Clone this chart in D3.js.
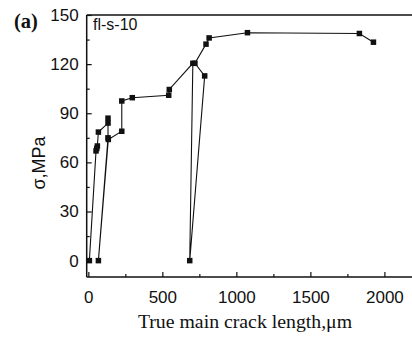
<!DOCTYPE html>
<html>
<head>
<meta charset="utf-8">
<script src="https://cdn.jsdelivr.net/npm/d3@7"></script>
<style>
  html, body { margin: 0; padding: 0; background: #fff; }
  svg { display: block; }
</style>
</head>
<body>
<svg id="chart" width="412" height="339"></svg>
<script>
// ---- data ----
const crackLength = [7, 52, 57, 61, 68, 133, 133, 133, 68, 135, 226, 226, 297, 543, 547, 706, 685, 786, 720, 795, 816, 1075, 1831, 1926];
const stress      = [0, 67, 68.5, 70, 78.5, 84, 87, 75, 0, 74, 79, 97.5, 99.5, 101, 104.5, 120.5, 0, 112.8, 120.5, 132.2, 136, 139.2, 138.7, 133.4];
const xTicks = [0, 500, 1000, 1500, 2000];
const xMinor = [250, 750, 1250, 1750];
const yTicks = [0, 30, 60, 90, 120, 150];
const yMinor = [15, 45, 75, 105, 135];
const sampleLabel = "fl-s-10";
const panelLabel = "(a)";
const xTitle = "True main crack length,\u03bcm";
const yTitle = "\u03c3,MPa";

const data = crackLength.map((x, i) => ({ x, y: stress[i] }));

const svg = d3.select("#chart");
const x = d3.scaleLinear().domain([-11, 2200]).range([86.7, 414]);
const y = d3.scaleLinear().domain([-10, 150]).range([277, 15]);

const sans = "'Liberation Sans', Arial, sans-serif";
const serif = "'Liberation Serif', 'Times New Roman', serif";

// frame
const frame = svg.append("g").attr("stroke", "#111").attr("stroke-width", 1.5).attr("fill", "none");
frame.append("line").attr("x1", x(-11)).attr("x2", 412).attr("y1", y(-10)).attr("y2", y(-10));
frame.append("line").attr("x1", x(-11)).attr("x2", x(-11)).attr("y1", y(-10)).attr("y2", y(150));
frame.append("line").attr("x1", x(-11)).attr("x2", 412).attr("y1", y(150)).attr("y2", y(150));

// x axis ticks (inward)
const xAxis = d3.axisBottom(x).tickValues(xTicks).tickSize(-5).tickPadding(14).tickFormat(d3.format("d"));
const gx = svg.append("g").attr("transform", `translate(0,${y(-10)})`).call(xAxis);
gx.select(".domain").remove();
gx.selectAll(".tick line").attr("stroke", "#111").attr("stroke-width", 1.2);
gx.selectAll(".tick text").attr("font-family", sans).attr("font-size", 17).attr("fill", "#111");
const xAxisMinor = d3.axisBottom(x).tickValues(xMinor).tickSize(-3).tickFormat("");
const gxm = svg.append("g").attr("transform", `translate(0,${y(-10)})`).call(xAxisMinor);
gxm.select(".domain").remove();
gxm.selectAll(".tick line").attr("stroke", "#111").attr("stroke-width", 1.2);

// y axis ticks (inward)
const yAxis = d3.axisLeft(y).tickValues(yTicks).tickSize(-5).tickPadding(8).tickFormat(d3.format("d"));
const gy = svg.append("g").attr("transform", `translate(${x(-11)},0)`).call(yAxis);
gy.select(".domain").remove();
gy.selectAll(".tick line").attr("stroke", "#111").attr("stroke-width", 1.2);
gy.selectAll(".tick text").attr("font-family", sans).attr("font-size", 17).attr("fill", "#111");
const yAxisMinor = d3.axisLeft(y).tickValues(yMinor).tickSize(-3).tickFormat("");
const gym = svg.append("g").attr("transform", `translate(${x(-11)},0)`).call(yAxisMinor);
gym.select(".domain").remove();
gym.selectAll(".tick line").attr("stroke", "#111").attr("stroke-width", 1.2);

// line
const line = d3.line().x(d => x(d.x)).y(d => y(d.y));
svg.append("path").datum(data)
  .attr("d", line).attr("fill", "none").attr("stroke", "#111").attr("stroke-width", 1.1);

// markers
const ms = 5.5;
svg.append("g").selectAll("rect").data(data).join("rect")
  .attr("x", d => x(d.x) - ms / 2).attr("y", d => y(d.y) - ms / 2)
  .attr("width", ms).attr("height", ms).attr("fill", "#111");

// texts
svg.append("text").attr("x", 93).attr("y", 30).attr("font-family", sans).attr("font-size", 16)
  .attr("fill", "#111").text(sampleLabel);
svg.append("text").attr("x", 14).attr("y", 28).attr("font-family", serif).attr("font-weight", "bold")
  .attr("font-size", 20.5).attr("fill", "#111").text(panelLabel);
svg.append("text").attr("x", 245).attr("y", 328).attr("text-anchor", "middle")
  .attr("font-family", serif).attr("font-size", 19.8).attr("fill", "#111").text(xTitle);
svg.append("text").attr("transform", "translate(45,163) rotate(-90)").attr("text-anchor", "middle")
  .attr("font-family", sans).attr("font-size", 18).attr("fill", "#111").text(yTitle);
</script>
</body>
</html>
